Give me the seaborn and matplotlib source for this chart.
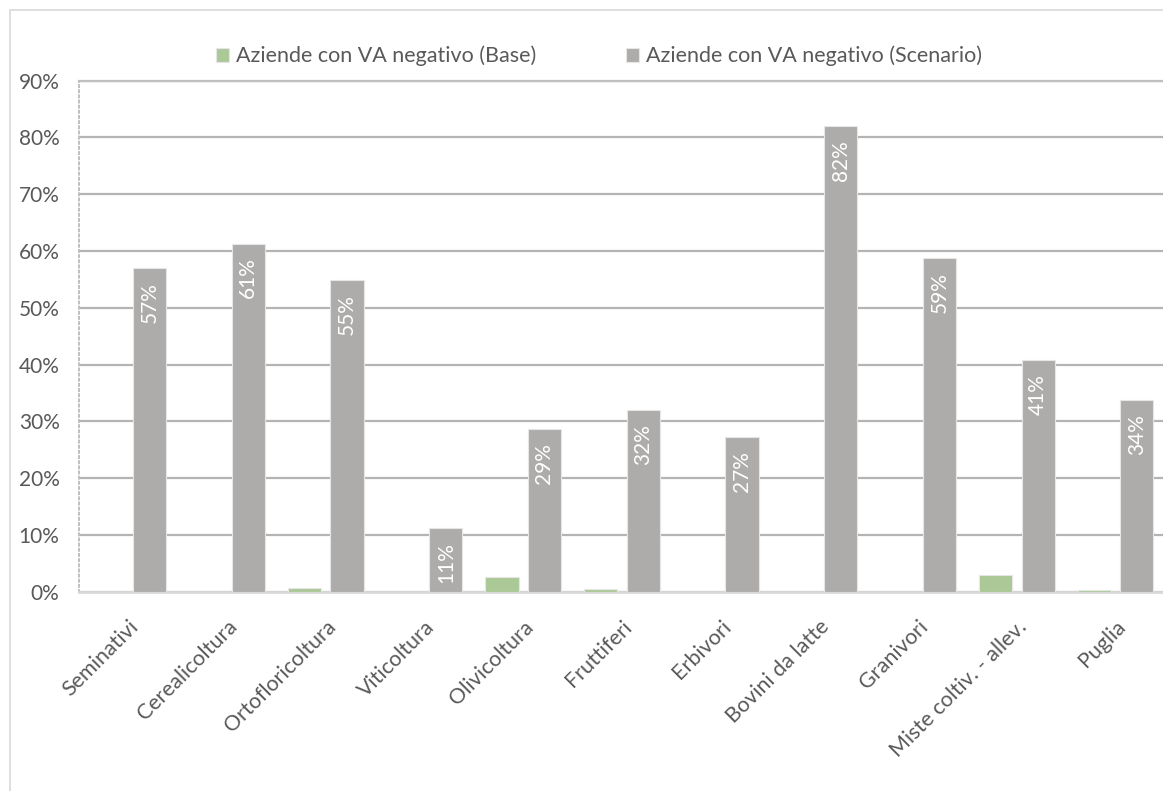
import seaborn as sns
import pandas as pd
import matplotlib.pyplot as plt
from matplotlib.patches import Rectangle
from matplotlib.ticker import PercentFormatter

# Data
categorie = ["Seminativi", "Cerealicoltura", "Ortofloricoltura", "Viticoltura",
             "Olivicoltura", "Fruttiferi", "Erbivori", "Bovini da latte",
             "Granivori", "Miste coltiv. - allev.", "Puglia"]
base = [0.0, 0.0, 0.7, 0.0, 2.6, 0.4, 0.0, 0.0, 0.0, 2.9, 0.3]
scenario = [57.0, 61.3, 54.9, 11.2, 28.6, 32.0, 27.2, 82.0, 58.7, 40.8, 33.8]
serie = ["Aziende con VA negativo (Base)", "Aziende con VA negativo (Scenario)"]

df = pd.DataFrame({
    "categoria": categorie * 2,
    "valore": [v / 100 for v in base + scenario],
    "serie": [serie[0]] * len(categorie) + [serie[1]] * len(categorie),
})

sns.set_style("white")
plt.rcParams["font.family"] = ["Lato", "DejaVu Sans"]

W, H = 1163, 791
fig = plt.figure(figsize=(W / 100, H / 100), dpi=100)
ax = fig.add_axes([79 / W, (H - 591.7) / H, 1086 / W, 511 / H])

# light chart border (left and top)
fig.patches.append(Rectangle((10 / W, -0.1), 2, 1.1 - 10 / H, transform=fig.transFigure,
                             fill=False, edgecolor="#D9D9D9", lw=1.2))

sns.barplot(data=df, x="categoria", y="valore", hue="serie",
            palette=["#A9D18E", "#AEAAAA"], width=0.86, gap=0.22,
            edgecolor="#E6E6E6", linewidth=0.8, ax=ax, zorder=3)

ax.set_xlim(-0.5, len(categorie) - 0.5)
ax.set_ylim(0, 0.9)
ax.set_yticks([i / 10 for i in range(10)])
ax.yaxis.set_major_formatter(PercentFormatter(1.0, decimals=0))
ax.yaxis.grid(True, color="#B4B4B4", lw=1.6, zorder=0)
ax.set_axisbelow(True)
ax.set_xlabel("")
ax.set_ylabel("")

ax.spines["right"].set_visible(False)
ax.spines["top"].set_color("#BFBFBF")
ax.spines["top"].set_linestyle((0, (2, 1)))
ax.spines["top"].set_linewidth(1.6)
ax.spines["left"].set_color("#BFBFBF")
ax.spines["left"].set_linestyle(":")
ax.spines["left"].set_linewidth(1.4)
ax.spines["bottom"].set_color("#D9D9D9")
ax.spines["bottom"].set_linewidth(2)

ax.tick_params(axis="y", length=0, pad=14, labelsize=15, labelcolor="#595959")
ax.tick_params(axis="x", length=0, pad=18, labelsize=15.5, labelcolor="#595959")
plt.setp(ax.get_xticklabels(), rotation=45, ha="right", rotation_mode="anchor")

# labels inside the scenario bars
for bar in ax.containers[1]:
    h = bar.get_height()
    ax.annotate(f"{h * 100:.0f}%", (bar.get_x() + bar.get_width() / 2, h),
                xytext=(0, -10), textcoords="offset points",
                rotation=90, ha="center", va="top", color="white",
                fontsize=15, annotation_clip=True, clip_on=True, zorder=4)

handles, labels = ax.get_legend_handles_labels()
ax.legend(handles, labels, loc="center", bbox_to_anchor=(599 / W, 1 - 56 / H),
          bbox_transform=fig.transFigure, ncol=2, frameon=False, fontsize=15.5,
          labelcolor="#595959", handlelength=0.6, handleheight=0.6,
          handletextpad=0.3, columnspacing=4.2)

fig.savefig("out.png", dpi=100)
